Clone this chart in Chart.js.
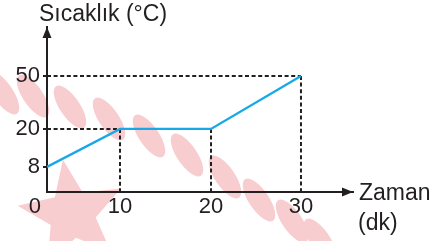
<!DOCTYPE html>
<html>
<head>
<meta charset="utf-8">
<script src="https://cdn.jsdelivr.net/npm/chart.js@4/dist/chart.umd.min.js"></script>
<style>
  html, body { margin: 0; padding: 0; background: #fff; }
  #wrap { width: 444px; height: 241px; }
</style>
</head>
<body>
<div id="wrap"><canvas id="chart"></canvas></div>
<script>
// Data
const TIMES = [0, 10, 20, 30];
const TEMPS = [8, 20, 20, 50];
const X_TICKS = [0, 10, 20, 30];
const Y_TICKS = [8, 20, 50];
const X_TITLE = ["Zaman", "(dk)"];
const Y_TITLE = "Sıcaklık (°C)";

// the drawing is schematic: axis spacing is not to scale
const X_STOPS = [[0, 0], [10, 0.2386], [20, 0.536], [30, 0.83], [36, 1]];
const Y_STOPS = [[0, 0], [8, 0.152], [20, 0.382], [50, 0.703], [70, 1]];

const INK = "#231f20";
const LINE_BLUE = "#17a8e8";
const PINK = "#f8cdd0";
const FONT = "'Liberation Sans', Arial, sans-serif";

// Linear scale with piecewise (non proportional) spacing
class SchematicScale extends Chart.LinearScale {
  getPixelForValue(value) {
    const stops = this.options.stops;
    let dec = 0;
    for (let i = 1; i < stops.length; i++) {
      const [v0, d0] = stops[i - 1];
      const [v1, d1] = stops[i];
      if (value <= v1 || i === stops.length - 1) {
        dec = d0 + ((value - v0) / (v1 - v0)) * (d1 - d0);
        break;
      }
    }
    return this.getPixelForDecimal(dec);
  }
}
SchematicScale.id = "schematic";
SchematicScale.defaults = Chart.LinearScale.defaults;
Chart.register(SchematicScale);

// dashed guide lines from each point to the axes
function buildGuides() {
  const guides = [];
  const seenY = new Set();
  TIMES.forEach((t, i) => {
    const v = TEMPS[i];
    if (t === 0) return;
    if (!seenY.has(v)) {
      seenY.add(v);
      guides.push([{ x: 0, y: v }, { x: t, y: v }]);
    }
    guides.push([{ x: t, y: v }, { x: t, y: 0 }]);
  });
  return guides.map((pts) => ({
    data: pts,
    borderColor: INK,
    borderWidth: 2,
    borderDash: [4, 2.6],
    pointRadius: 0,
    order: 1,
  }));
}

const watermark = {
  id: "watermark",
  beforeDraw(chart) {
    const ctx = chart.ctx;
    ctx.save();
    ctx.fillStyle = PINK;
    // star
    const cx = 72, cy = 214, R = 55, r = 24;
    ctx.beginPath();
    for (let k = 0; k < 10; k++) {
      const a = ((-99.5 + k * 36) * Math.PI) / 180;
      const rad = k % 2 === 0 ? R : r;
      const px = cx + rad * Math.cos(a);
      const py = cy + rad * Math.sin(a);
      k === 0 ? ctx.moveTo(px, py) : ctx.lineTo(px, py);
    }
    ctx.closePath();
    ctx.fill();
    // leaf blobs
    const blobs = [[3, 93], [33, 96], [70, 107], [109, 119], [149, 136],
      [187, 155], [225, 177], [259, 200], [292, 221], [320, 240]];
    blobs.forEach(([bx, by]) => {
      ctx.beginPath();
      ctx.ellipse(bx, by, 25, 10, (56 * Math.PI) / 180, 0, Math.PI * 2);
      ctx.fill();
    });
    ctx.restore();
  },
};

const axisDecor = {
  id: "axisDecor",
  afterDraw(chart) {
    const { ctx, chartArea } = chart;
    const { left, top, right, bottom } = chartArea;
    ctx.save();
    ctx.fillStyle = INK;
    // arrow heads
    ctx.beginPath();
    ctx.moveTo(left, top);
    ctx.lineTo(left - 4.5, top + 11);
    ctx.lineTo(left + 4.5, top + 11);
    ctx.closePath();
    ctx.fill();
    ctx.beginPath();
    ctx.moveTo(right, bottom);
    ctx.lineTo(right - 11, bottom - 4.5);
    ctx.lineTo(right - 11, bottom + 4.5);
    ctx.closePath();
    ctx.fill();
    // axis titles
    ctx.font = "23px " + FONT;
    ctx.textAlign = "left";
    ctx.textBaseline = "alphabetic";
    ctx.fillText(Y_TITLE, 39, 21);
    ctx.fillText(X_TITLE[0], 359, 200);
    ctx.fillText(X_TITLE[1], 358, 230);
    ctx.restore();
  },
};

new Chart(document.getElementById("chart"), {
  type: "line",
  data: {
    datasets: [
      {
        data: TIMES.map((t, i) => ({ x: t, y: TEMPS[i] })),
        borderColor: LINE_BLUE,
        borderWidth: 2.3,
        pointRadius: 0,
        tension: 0,
        order: 0,
      },
      ...buildGuides(),
    ],
  },
  options: {
    responsive: true,
    maintainAspectRatio: false,
    animation: false,
    layout: { padding: { top: 27, right: 91, left: 0, bottom: 0 } },
    plugins: { legend: { display: false }, tooltip: { enabled: false } },
    scales: {
      x: {
        type: "schematic",
        stops: X_STOPS,
        min: 0,
        max: 36,
        afterBuildTicks: (s) => { s.ticks = X_TICKS.map((v) => ({ value: v })); },
        afterFit: (s) => { s.height = 49; },
        border: { color: INK, width: 2 },
        grid: { display: false, drawTicks: false },
        ticks: {
          color: INK,
          font: { family: FONT, size: 22 },
          padding: 2,
          maxRotation: 0,
          autoSkip: false,
          callback: (v) => (v === 0 ? "0\u2007\u2007" : String(v)),
        },
      },
      y: {
        type: "schematic",
        stops: Y_STOPS,
        min: 0,
        max: 70,
        afterBuildTicks: (s) => { s.ticks = Y_TICKS.map((v) => ({ value: v })); },
        afterFit: (s) => { s.width = 47; },
        border: { color: INK, width: 2 },
        grid: {
          drawOnChartArea: false,
          drawTicks: true,
          tickLength: 4,
          color: INK,
          lineWidth: 2,
        },
        ticks: {
          color: INK,
          font: { family: FONT, size: 22 },
          padding: 3,
          autoSkip: false,
        },
      },
    },
  },
  plugins: [watermark, axisDecor],
});
</script>
</body>
</html>
